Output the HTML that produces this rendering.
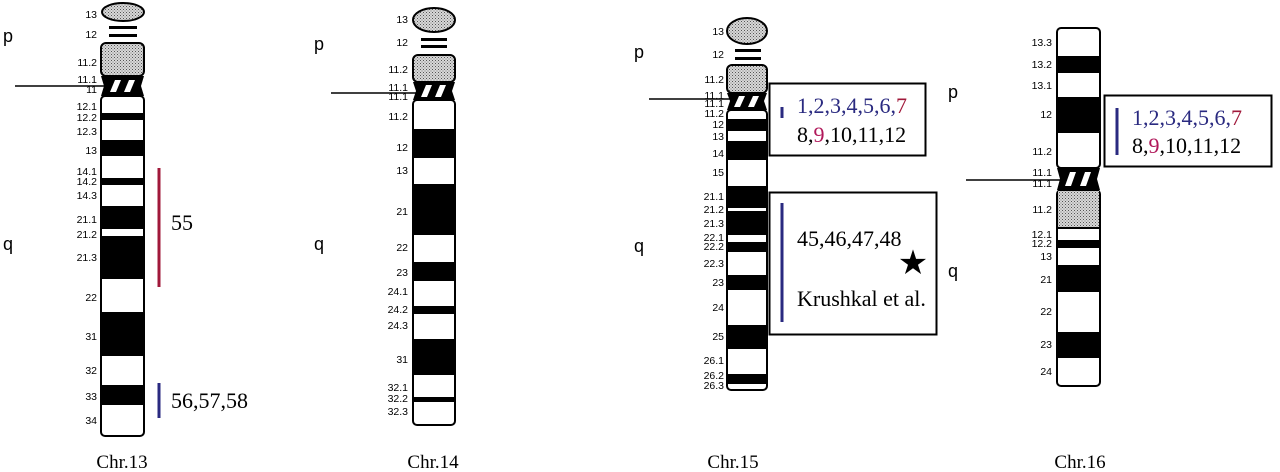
<!DOCTYPE html>
<html><head><meta charset="utf-8"><style>
html,body{margin:0;padding:0;background:#fff;}
svg{display:block;}
.l{font-family:"Liberation Sans",sans-serif;font-size:10.5px;text-anchor:end;dominant-baseline:middle;fill:#000;}
.pq{font-family:"Liberation Sans",sans-serif;font-size:18px;fill:#000;}
.s{font-family:"Liberation Serif",serif;font-size:22px;fill:#000;}
.c{font-family:"Liberation Serif",serif;font-size:19px;text-anchor:middle;fill:#000;}
</style></head><body>
<svg width="1280" height="472" viewBox="0 0 1280 472" xmlns="http://www.w3.org/2000/svg">
<defs>
<pattern id="dot" width="3" height="3" patternUnits="userSpaceOnUse"><rect width="3" height="3" fill="#d8d8d8"/><rect width="1" height="1" fill="#555"/><rect x="1.5" y="1.5" width="1" height="1" fill="#777"/></pattern>
</defs>

<!-- ===== Chr13 ===== -->
<ellipse cx="123" cy="12" rx="21" ry="9" fill="url(#dot)" stroke="#000" stroke-width="2"/>
<rect x="109" y="26" width="28" height="3" fill="#000"/><rect x="109" y="34" width="28" height="3" fill="#000"/>
<rect x="101" y="43" width="43" height="33" rx="5" fill="url(#dot)" stroke="#000" stroke-width="2"/>
<polygon points="101,76 144,76 141,86 144,96 101,96 104,86" fill="#000"/>
<polygon points="110,92 115,80 121,80 116,92" fill="#fff"/><polygon points="124,92 129,80 135,80 130,92" fill="#fff"/>
<rect x="101" y="96" width="43" height="340" rx="4" fill="#fff" stroke="#000" stroke-width="2"/>
<g fill="#000">
<rect x="101" y="113" width="43" height="7"/><rect x="101" y="140" width="43" height="16"/><rect x="101" y="178" width="43" height="7"/>
<rect x="101" y="206" width="43" height="23"/><rect x="101" y="236" width="43" height="43"/><rect x="101" y="312" width="43" height="44"/>
<rect x="101" y="385" width="43" height="20"/>
</g>
<line x1="15" y1="86" x2="104" y2="86" stroke="#000" stroke-width="1.5"/>
<g class="l">
<text x="97" y="15">13</text><text x="97" y="35">12</text><text x="97" y="63">11.2</text><text x="97" y="80">11.1</text><text x="97" y="90">11</text>
<text x="97" y="107">12.1</text><text x="97" y="118">12.2</text><text x="97" y="132">12.3</text><text x="97" y="151">13</text>
<text x="97" y="172">14.1</text><text x="97" y="182">14.2</text><text x="97" y="196">14.3</text><text x="97" y="220">21.1</text>
<text x="97" y="235">21.2</text><text x="97" y="258">21.3</text><text x="97" y="298">22</text><text x="97" y="337">31</text>
<text x="97" y="371">32</text><text x="97" y="397">33</text><text x="97" y="421">34</text>
</g>
<text class="pq" x="3" y="42">p</text><text class="pq" x="3" y="250">q</text>
<line x1="159" y1="168" x2="159" y2="287" stroke="#a0183a" stroke-width="3"/>
<line x1="159" y1="383" x2="159" y2="418" stroke="#2a2a80" stroke-width="3"/>
<text class="s" x="171" y="230">55</text>
<text class="s" x="171" y="408">56,57,58</text>
<text class="c" x="122" y="468">Chr.13</text>

<!-- ===== Chr14 ===== -->
<ellipse cx="434" cy="20" rx="21" ry="12" fill="url(#dot)" stroke="#000" stroke-width="2"/>
<rect x="421" y="38" width="26" height="3" fill="#000"/><rect x="421" y="45" width="26" height="3" fill="#000"/>
<rect x="413" y="55" width="42" height="27" rx="5" fill="url(#dot)" stroke="#000" stroke-width="2"/>
<polygon points="413,82 455,82 452,91 455,100 413,100 416,91" fill="#000"/>
<polygon points="421,97 426,85 432,85 427,97" fill="#fff"/><polygon points="435,97 440,85 446,85 441,97" fill="#fff"/>
<rect x="413" y="100" width="42" height="325" rx="4" fill="#fff" stroke="#000" stroke-width="2"/>
<g fill="#000">
<rect x="413" y="129" width="42" height="29"/><rect x="413" y="184" width="42" height="51"/><rect x="413" y="262" width="42" height="19"/>
<rect x="413" y="306" width="42" height="8"/><rect x="413" y="339" width="42" height="36"/><rect x="413" y="397" width="42" height="5"/>
</g>
<line x1="331" y1="93" x2="420" y2="93" stroke="#000" stroke-width="1.5"/>
<g class="l">
<text x="408" y="20">13</text><text x="408" y="43">12</text><text x="408" y="70">11.2</text><text x="408" y="88">11.1</text><text x="408" y="97">11.1</text>
<text x="408" y="117">11.2</text><text x="408" y="148">12</text><text x="408" y="171">13</text><text x="408" y="212">21</text>
<text x="408" y="248">22</text><text x="408" y="273">23</text><text x="408" y="292">24.1</text><text x="408" y="310">24.2</text>
<text x="408" y="326">24.3</text><text x="408" y="360">31</text><text x="408" y="388">32.1</text><text x="408" y="399">32.2</text><text x="408" y="412">32.3</text>
</g>
<text class="pq" x="314" y="50">p</text><text class="pq" x="314" y="250">q</text>
<text class="c" x="433" y="468">Chr.14</text>

<!-- ===== Chr15 ===== -->
<ellipse cx="747" cy="31" rx="20" ry="13" fill="url(#dot)" stroke="#000" stroke-width="2"/>
<rect x="735" y="49" width="26" height="3" fill="#000"/><rect x="735" y="57" width="26" height="3" fill="#000"/>
<rect x="727" y="65" width="40" height="28" rx="5" fill="url(#dot)" stroke="#000" stroke-width="2"/>
<polygon points="727,93 767,93 764,101 767,110 727,110 730,101" fill="#000"/>
<polygon points="734,107 739,96 745,96 740,107" fill="#fff"/><polygon points="748,107 753,96 759,96 754,107" fill="#fff"/>
<rect x="727" y="110" width="40" height="280" rx="4" fill="#fff" stroke="#000" stroke-width="2"/>
<g fill="#000">
<rect x="727" y="119" width="40" height="12"/><rect x="727" y="141" width="40" height="19"/><rect x="727" y="186" width="40" height="22"/>
<rect x="727" y="211" width="40" height="24"/><rect x="727" y="242" width="40" height="10"/><rect x="727" y="275" width="40" height="15"/>
<rect x="727" y="325" width="40" height="24"/><rect x="727" y="374" width="40" height="10"/>
</g>
<line x1="649" y1="99" x2="735" y2="99" stroke="#000" stroke-width="1.5"/>
<g class="l">
<text x="724" y="32">13</text><text x="724" y="55">12</text><text x="724" y="80">11.2</text><text x="724" y="96">11.1</text><text x="724" y="104">11.1</text>
<text x="724" y="114">11.2</text><text x="724" y="125">12</text><text x="724" y="137">13</text><text x="724" y="154">14</text>
<text x="724" y="173">15</text><text x="724" y="197">21.1</text><text x="724" y="210">21.2</text><text x="724" y="224">21.3</text>
<text x="724" y="238">22.1</text><text x="724" y="247">22.2</text><text x="724" y="264">22.3</text><text x="724" y="283">23</text>
<text x="724" y="308">24</text><text x="724" y="337">25</text><text x="724" y="361">26.1</text><text x="724" y="376">26.2</text><text x="724" y="386">26.3</text>
</g>
<text class="pq" x="634" y="58">p</text><text class="pq" x="634" y="252">q</text>
<rect x="769.5" y="83.5" width="156" height="72" fill="#fff" stroke="#000" stroke-width="2"/>
<line x1="782" y1="107" x2="782" y2="118" stroke="#2a2a80" stroke-width="3"/>
<text class="s" x="797" y="113"><tspan fill="#2a2a80">1,2,3,4,5,6,</tspan><tspan fill="#a0183a">7</tspan></text>
<text class="s" x="797" y="142">8,<tspan fill="#b0185a">9</tspan>,10,11,12</text>
<rect x="769.5" y="192.5" width="167" height="142" fill="#fff" stroke="#000" stroke-width="2"/>
<line x1="782" y1="203" x2="782" y2="322" stroke="#2a2a80" stroke-width="3"/>
<text class="s" x="797" y="246">45,46,47,48</text>
<text x="913" y="274" font-family="DejaVu Sans,sans-serif" font-size="34" text-anchor="middle" fill="#000">★</text>
<text class="s" x="797" y="306">Krushkal et al.</text>
<text class="c" x="733" y="468">Chr.15</text>

<!-- ===== Chr16 ===== -->
<rect x="1057" y="28" width="43" height="140" rx="4" fill="#fff" stroke="#000" stroke-width="2"/>
<g fill="#000"><rect x="1057" y="56" width="43" height="17"/><rect x="1057" y="97" width="43" height="36"/></g>
<polygon points="1057,168 1100,168 1097,179 1100,190 1057,190 1060,179" fill="#000"/>
<polygon points="1065,186 1070,172 1076,172 1071,186" fill="#fff"/><polygon points="1080,186 1085,172 1091,172 1086,186" fill="#fff"/>
<rect x="1057" y="190" width="43" height="196" rx="4" fill="#fff" stroke="#000" stroke-width="2"/>
<rect x="1058" y="191" width="41" height="36" fill="url(#dot)"/>
<g fill="#000"><rect x="1057" y="227" width="43" height="2"/><rect x="1057" y="240" width="43" height="8"/><rect x="1057" y="265" width="43" height="27"/><rect x="1057" y="332" width="43" height="26"/></g>
<line x1="966" y1="180" x2="1060" y2="180" stroke="#000" stroke-width="1.5"/>
<g class="l">
<text x="1052" y="43">13.3</text><text x="1052" y="65">13.2</text><text x="1052" y="86">13.1</text><text x="1052" y="115">12</text>
<text x="1052" y="152">11.2</text><text x="1052" y="173">11.1</text><text x="1052" y="184">11.1</text><text x="1052" y="210">11.2</text>
<text x="1052" y="235">12.1</text><text x="1052" y="244">12.2</text><text x="1052" y="257">13</text><text x="1052" y="280">21</text>
<text x="1052" y="312">22</text><text x="1052" y="345">23</text><text x="1052" y="372">24</text>
</g>
<text class="pq" x="948" y="98">p</text><text class="pq" x="948" y="277">q</text>
<rect x="1104.5" y="95.5" width="167" height="71" fill="#fff" stroke="#000" stroke-width="2"/>
<line x1="1117" y1="108" x2="1117" y2="155" stroke="#2a2a80" stroke-width="3"/>
<text class="s" x="1132" y="125"><tspan fill="#2a2a80">1,2,3,4,5,6,</tspan><tspan fill="#a0183a">7</tspan></text>
<text class="s" x="1132" y="153">8,<tspan fill="#b0185a">9</tspan>,10,11,12</text>
<text class="c" x="1080" y="468">Chr.16</text>
</svg>
</body></html>
